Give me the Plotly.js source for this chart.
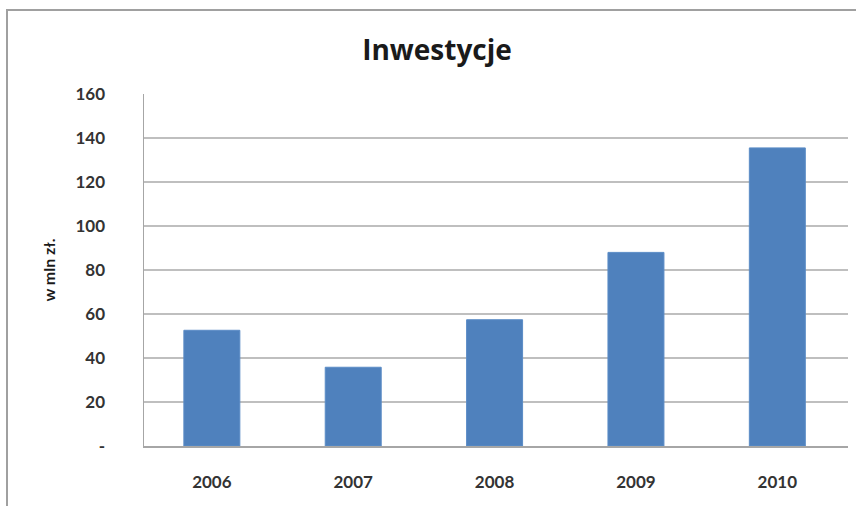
<!DOCTYPE html>
<html>
<head>
<meta charset="utf-8">
<script src="https://cdn.plot.ly/plotly-3.0.1.min.js"></script>
<style>html,body{margin:0;padding:0;background:#fff}#chart{width:856px;height:506px}</style>
</head>
<body>
<div id="chart"></div>
<script>
var years = ['2006', '2007', '2008', '2009', '2010'];
var investments = [52.6, 35.8, 57.4, 88, 135.5];
var yTickValues = [0, 20, 40, 60, 80, 100, 120, 140, 160];
var yTickLabels = ['-', '20', '40', '60', '80', '100', '120', '140', '160'];

var tickFont = {family: 'Lato, "Open Sans", sans-serif', size: 17, color: '#333333', weight: 'bold'};

var data = [{
  type: 'bar',
  x: years,
  y: investments,
  marker: {color: '#4f81bd', line: {color: '#5b8cc6', width: 1}},
  hoverinfo: 'x+y'
}];

var plotW = 704, plotH = 352, plotL = 144, plotB = 446;

var layout = {
  width: 856,
  height: 506,
  margin: {l: 144, r: 8, t: 94, b: 60},
  paper_bgcolor: '#ffffff',
  plot_bgcolor: '#ffffff',
  showlegend: false,
  bargap: 0.604,
  title: {
    text: '<b>Inwestycje</b>',
    font: {family: '"Open Sans", Lato, sans-serif', size: 28, color: '#1a1a1a'},
    x: 437 / 856, xref: 'container', xanchor: 'center',
    y: 1 - 50 / 506, yref: 'container', yanchor: 'middle'
  },
  xaxis: {
    type: 'category',
    range: [-0.48, 4.5],
    tickfont: tickFont,
    showgrid: false,
    showline: true,
    linecolor: '#a6a6a6',
    linewidth: 1.5,
    ticks: '',
    ticklabelstandoff: 20
  },
  yaxis: {
    range: [0, 160],
    tickvals: yTickValues,
    ticktext: yTickLabels,
    tickfont: tickFont,
    showgrid: true,
    gridcolor: '#bfbfbf',
    gridwidth: 1.5,
    zeroline: false,
    showline: true,
    linecolor: '#a6a6a6',
    linewidth: 1.5,
    ticks: '',
    ticklabelstandoff: 34,
    title: {
      text: '<b>w mln zł.</b>',
      font: {family: 'Lato, "Open Sans", sans-serif', size: 16, color: '#1a1a1a'},
      standoff: 16
    }
  },
  shapes: [{
    type: 'rect', xref: 'paper', yref: 'paper',
    x0: (7 - plotL) / plotW, x1: (870 - plotL) / plotW,
    y0: (plotB - 520) / plotH, y1: (plotB - 10) / plotH,
    line: {color: '#a0a0a0', width: 2},
    fillcolor: 'rgba(0,0,0,0)',
    layer: 'below'
  }]
};

Plotly.newPlot('chart', data, layout, {displayModeBar: false, staticPlot: true});
</script>
</body>
</html>
